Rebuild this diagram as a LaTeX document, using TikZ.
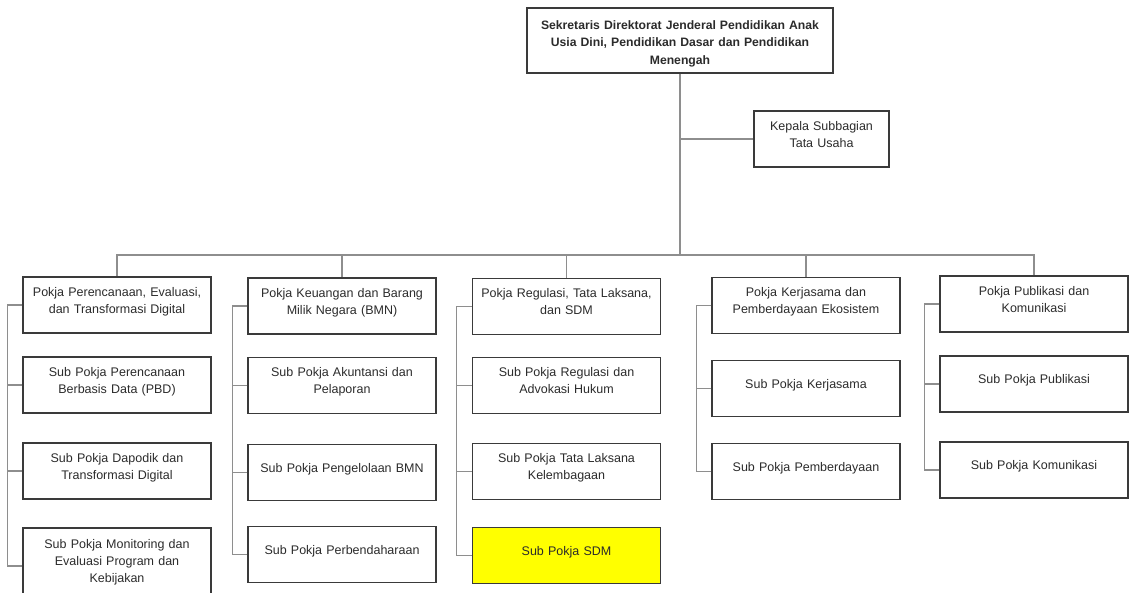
\documentclass[tikz,border=0pt]{standalone}
\usepackage{fontspec}
\setmainfont{Liberation Sans}
\definecolor{boxline}{HTML}{3A3A3A}
\definecolor{linkgray}{HTML}{8E8E8E}
\definecolor{textgray}{HTML}{2B2B2B}
\definecolor{sdmyellow}{HTML}{FFFF00}
\begin{document}
\begin{tikzpicture}[
  x=1pt, y=-1pt,
  frame/.style={
    draw=boxline,
    line width=1.4pt,
    align=center,
    inner sep=4pt,
    text=textgray
  },
  box/.style={
    frame,
    text width=180pt,
    minimum height=56pt,
    font=\fontsize{12.5}{17}\selectfont,
    execute at end node={\endgraf\vspace{-7pt}\hbox{}}
  },
  topbox/.style={
    frame,
    text width=298pt,
    minimum height=65pt,
    font=\fontsize{12.2}{17.5}\selectfont\bfseries,
    execute at begin node={\rule{0pt}{15pt}}
  },
  link/.style={draw=linkgray, line width=1.1pt}
]
\useasboundingbox (0,0) rectangle (1129,593);
\clip (0,0) rectangle (1129,593);

\node[topbox] (sekdit) at (680,40.5) {Sekretaris Direktorat Jenderal Pendidikan Anak\\Usia Dini, Pendidikan Dasar dan Pendidikan\\Menengah};
\node[box, text width=127pt] (tu) at (821.5,139) {Kepala Subbagian\\Tata Usaha};

\node[box] (ped) at (117,305) {Pokja Perencanaan, Evaluasi,\\dan Transformasi Digital};
\node[box] (pbd) at (117,385) {Sub Pokja Perencanaan\\Berbasis Data (PBD)};
\node[box] (dapodik) at (117,471) {Sub Pokja Dapodik dan\\Transformasi Digital};
\node[box, minimum height=76pt] (monev) at (117,566) {Sub Pokja Monitoring dan\\Evaluasi Program dan\\Kebijakan};

\node[box] (keu) at (342,306) {Pokja Keuangan dan Barang\\Milik Negara (BMN)};
\node[box] (akun) at (342,385.5) {Sub Pokja Akuntansi dan\\Pelaporan};
\node[box] (bmn) at (342,472.5) {Sub Pokja Pengelolaan BMN};
\node[box] (bend) at (342,554.5) {Sub Pokja Perbendaharaan};

\node[box] (reg) at (566.5,306.5) {Pokja Regulasi, Tata Laksana,\\dan SDM};
\node[box] (hukum) at (566.5,385.5) {Sub Pokja Regulasi dan\\Advokasi Hukum};
\node[box] (kelemb) at (566.5,471.5) {Sub Pokja Tata Laksana\\Kelembagaan};
\node[box, fill=sdmyellow] (sdm) at (566.5,555.5) {Sub Pokja SDM};

\node[box] (kerja) at (806,305.5) {Pokja Kerjasama dan\\Pemberdayaan Ekosistem};
\node[box] (kerjasama) at (806,388.5) {Sub Pokja Kerjasama};
\node[box] (berdaya) at (806,471.5) {Sub Pokja Pemberdayaan};

\node[box] (publik) at (1034,304) {Pokja Publikasi dan\\Komunikasi};
\node[box] (publikasi) at (1034,384) {Sub Pokja Publikasi};
\node[box] (komunikasi) at (1034,470) {Sub Pokja Komunikasi};

% top of the chart
\coordinate (bus) at (680,255);
\draw[link] (sekdit.south) -- (bus);
\draw[link] (sekdit.south |- tu.west) -- (tu.west);
\draw[link] (bus) -| (ped);
\draw[link] (bus) -| (keu);
\draw[link] (bus) -| (reg);
\draw[link] (bus) -| (kerja);
\draw[link] (bus) -| (publik);

% sub pokja brackets
\draw[link] (ped.west) -- ++(-15,0) |- (monev.west);
\draw[link] (pbd.west) -- ++(-15,0);
\draw[link] (dapodik.west) -- ++(-15,0);
\draw[link] (keu.west) -- ++(-15,0) |- (bend.west);
\draw[link] (akun.west) -- ++(-15,0);
\draw[link] (bmn.west) -- ++(-15,0);
\draw[link] (reg.west) -- ++(-15,0) |- (sdm.west);
\draw[link] (hukum.west) -- ++(-15,0);
\draw[link] (kelemb.west) -- ++(-15,0);
\draw[link] (kerja.west) -- ++(-15,0) |- (berdaya.west);
\draw[link] (kerjasama.west) -- ++(-15,0);
\draw[link] (publik.west) -- ++(-15,0) |- (komunikasi.west);
\draw[link] (publikasi.west) -- ++(-15,0);
\end{tikzpicture}
\end{document}
